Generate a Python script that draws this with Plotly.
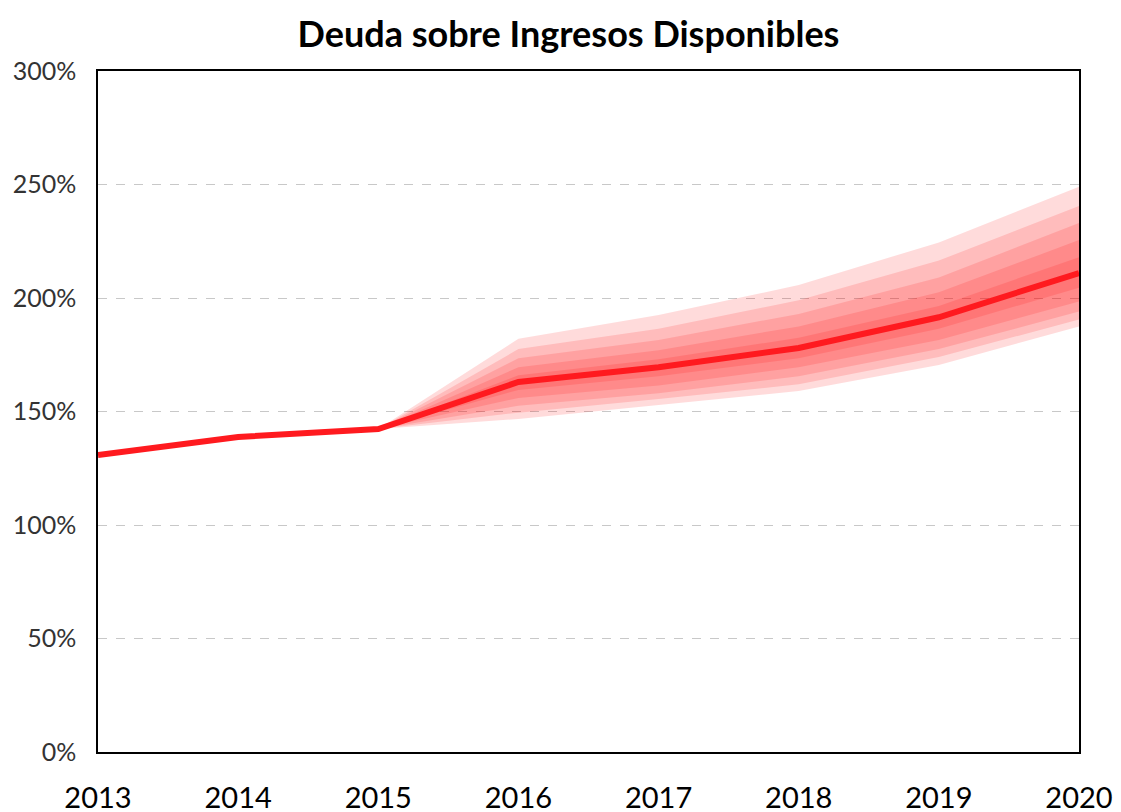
import plotly.graph_objects as go

years_hist = [2013, 2014, 2015]
hist = [130.8, 138.8, 142.3]

years_fc = [2015, 2016, 2017, 2018, 2019, 2020]
central = [142.3, 163.0, 169.5, 178.0, 191.5, 211.0]

upper5 = [142.3, 182.0, 192.5, 205.7, 224.5, 249.0]
upper4 = [142.3, 177.5, 186.5, 199.0, 216.5, 240.5]
upper3 = [142.3, 173.5, 181.5, 193.0, 209.0, 233.0]
upper2 = [142.3, 169.5, 177.0, 187.5, 202.5, 225.5]
upper1 = [142.3, 166.0, 173.0, 182.5, 196.5, 218.0]
lower1 = [142.3, 159.5, 165.5, 173.5, 186.5, 204.5]
lower2 = [142.3, 156.0, 161.5, 169.5, 181.5, 198.5]
lower3 = [142.3, 152.5, 158.0, 165.5, 177.5, 194.0]
lower4 = [142.3, 149.5, 155.5, 162.0, 174.0, 190.5]
lower5 = [142.3, 146.7, 153.0, 159.0, 170.5, 187.5]

bands = [(upper5, lower5), (upper4, lower4), (upper3, lower3), (upper2, lower2), (upper1, lower1)]

FONT = "Lato"
fig = go.Figure()

for up, lo in bands:
    fig.add_trace(go.Scatter(
        x=years_fc + years_fc[::-1],
        y=up + lo[::-1],
        fill="toself",
        fillcolor="rgba(255,0,0,0.14)",
        line=dict(width=0),
        mode="lines",
        hoverinfo="skip",
        showlegend=False,
    ))

fig.add_trace(go.Scatter(
    x=years_hist + years_fc[1:],
    y=hist + central[1:],
    mode="lines",
    line=dict(color="#FF1A1F", width=6),
    showlegend=False,
))

fig.update_layout(
    width=1121, height=812,
    margin=dict(l=90, r=50, t=63, b=68),
    paper_bgcolor="white", plot_bgcolor="white",
    title=dict(text="<b>Deuda sobre Ingresos Disponibles</b>", x=0.5, xanchor="center",
               y=0.968, yanchor="middle", automargin=False,
               font=dict(family=FONT, size=36, color="#000000")),
    font=dict(family=FONT),
)
fig.update_xaxes(
    range=[2013, 2020], tickmode="array", tickvals=[2013, 2014, 2015, 2016, 2017, 2018, 2019, 2020],
    ticktext=["2013", "2014", "2015", "2016", "2017", "2018", "2019", "2020"],
    showgrid=False, showline=True, linecolor="#000000", linewidth=1.5, mirror=True,
    ticks="", ticklabelstandoff=19, automargin=False,
    tickfont=dict(family=FONT, size=29, color="#000000"), zeroline=False,
)
fig.update_yaxes(
    range=[0, 300], tickvals=[0, 50, 100, 150, 200, 250, 300],
    ticktext=["0%", "50%", "100%", "150%", "200%", "250%", "300%"],
    showgrid=True, gridcolor="#C8C8C8", griddash="dash", gridwidth=1,
    showline=True, linecolor="#000000", linewidth=1.5, mirror=True,
    ticks="", ticklabelstandoff=15, automargin=False,
    tickfont=dict(family=FONT, size=25, color="#333333"), zeroline=False,
)

fig.write_html("out.html")
